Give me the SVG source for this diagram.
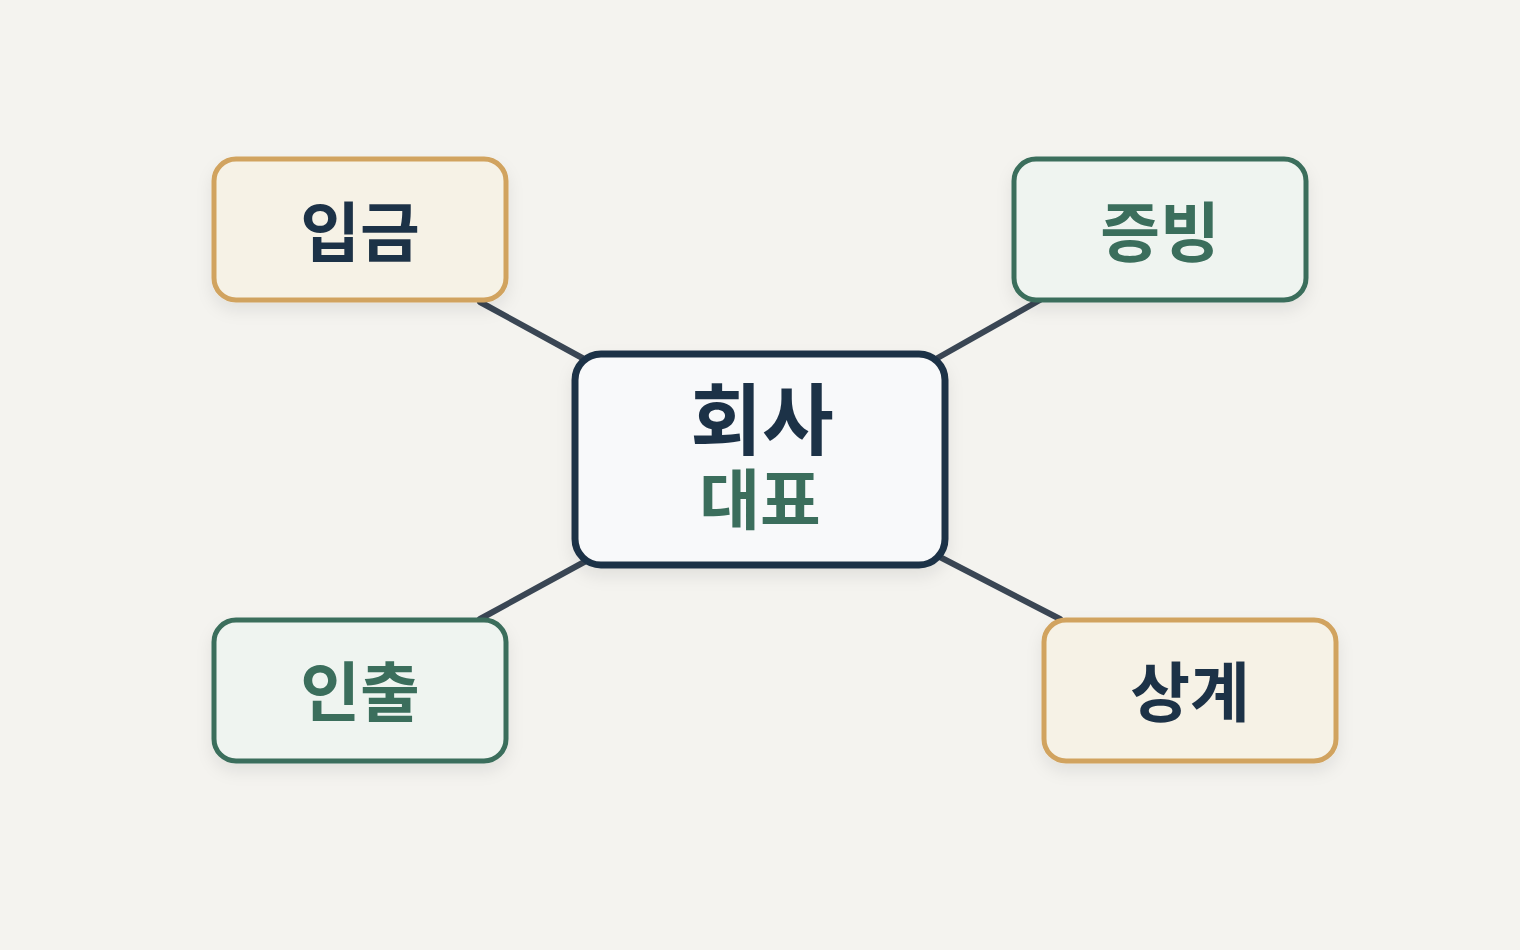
<svg xmlns="http://www.w3.org/2000/svg" width="1520" height="950" viewBox="0 0 1520 950">
<style>
.t{font-family:"Noto Sans CJK KR","Noto Sans",sans-serif;font-weight:700;text-anchor:middle}
.gold{fill:#f6f2e6;stroke:#d1a35f;stroke-width:5}
.green{fill:#eff4f0;stroke:#3b6e5c;stroke-width:5}
.dark{fill:#1f3246}
.grn{fill:#3b6e5c}
</style>
<defs>
<filter id="sh" x="-20%" y="-20%" width="140%" height="150%"><feDropShadow dx="0" dy="8" stdDeviation="8" flood-color="#000" flood-opacity="0.08"/></filter>
</defs>
<rect width="1520" height="950" fill="#f4f3ef"/>
<g id="connectors" stroke="#3a4654" stroke-width="6" stroke-linecap="round">
<line x1="480" y1="302" x2="586" y2="360"/>
<line x1="1040" y1="300" x2="934" y2="360"/>
<line x1="480" y1="619" x2="586" y2="561"/>
<line x1="1060" y1="619" x2="936" y2="555"/>
</g>
<g id="n-deposit" filter="url(#sh)"><rect class="gold" x="214" y="159" width="292" height="141" rx="22"/><text class="t dark" x="360" y="256" font-size="65">입금</text></g>
<g id="n-proof" filter="url(#sh)"><rect class="green" x="1014" y="159" width="292" height="141" rx="22"/><text class="t grn" x="1160" y="256" font-size="65">증빙</text></g>
<g id="n-withdraw" filter="url(#sh)"><rect class="green" x="214" y="620" width="292" height="141" rx="22"/><text class="t grn" x="360" y="716" font-size="65">인출</text></g>
<g id="n-offset" filter="url(#sh)"><rect class="gold" x="1044" y="620" width="292" height="141" rx="22"/><text class="t dark" x="1190" y="716" font-size="65">상계</text></g>
<g id="n-center" filter="url(#sh)"><rect x="575" y="354" width="370" height="211" rx="26" fill="#f8f9fa" stroke="#1f3246" stroke-width="7"/>
<text class="t dark" x="762" y="449" font-size="78">회사</text>
<text class="t grn" x="760" y="524" font-size="66">대표</text></g>
</svg>
